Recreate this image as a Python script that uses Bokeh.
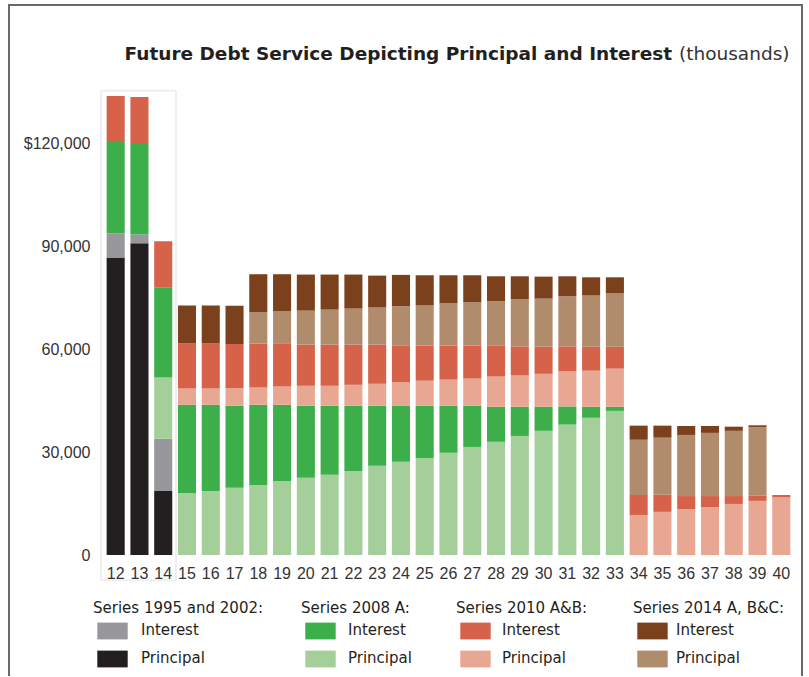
from bokeh.plotting import figure
from bokeh.models import (ColumnDataSource, FixedTicker, Legend, LegendItem,
                          BoxAnnotation, Label)
from bokeh.embed import file_html
from bokeh.resources import INLINE

# ---------------- data (thousands of dollars) ----------------
years = [12, 13, 14, 15, 16, 17, 18, 19, 20, 21, 22, 23, 24, 25, 26, 27, 28,
         29, 30, 31, 32, 33, 34, 35, 36, 37, 38, 39, 40]

# Series 1995 and 2002
p1995 = [86700, 90800, 18700, 0, 0, 0, 0, 0, 0, 0, 0, 0, 0, 0, 0, 0, 0,
         0, 0, 0, 0, 0, 0, 0, 0, 0, 0, 0, 0]
i1995 = [7000, 2600, 15200, 0, 0, 0, 0, 0, 0, 0, 0, 0, 0, 0, 0, 0, 0,
         0, 0, 0, 0, 0, 0, 0, 0, 0, 0, 0, 0]
# Series 2008 A
p2008 = [0, 0, 17800, 18100, 18700, 19600, 20400, 21600, 22500, 23400, 24500,
         26000, 27200, 28300, 29800, 31500, 33000, 34700, 36200, 38000, 40000,
         42000, 0, 0, 0, 0, 0, 0, 0]
i2008 = [26600, 26600, 26300, 25700, 25100, 23900, 23400, 22200, 21000, 20100,
         19000, 17500, 16400, 15200, 13700, 12000, 10200, 8500, 7000, 5300,
         3200, 1200, 0, 0, 0, 0, 0, 0, 0]
# Series 2010 A&B
p2010 = [0, 0, 0, 4700, 4700, 5200, 5000, 5300, 5800, 5800, 6100, 6400, 6700,
         7300, 7600, 7900, 8800, 9100, 9600, 10200, 10500, 11100, 11700, 12600,
         13400, 14000, 14900, 15800, 16900]
i2010 = [13400, 13400, 13400, 13100, 13100, 12800, 12800, 12600, 12000, 12000,
         11700, 11400, 10800, 10200, 9900, 9600, 9100, 8500, 7900, 7300, 7000,
         6400, 5800, 5000, 3800, 3200, 2300, 1500, 600]
# Series 2014 A, B&C
p2014 = [0, 0, 0, 0, 0, 0, 9100, 9300, 9900, 10200, 10500, 10800, 11400, 11700,
         12300, 12600, 12800, 13700, 14000, 14600, 14900, 15500, 16100, 16600,
         17800, 18400, 19000, 19900, 0]
i2014 = [0, 0, 0, 11100, 11100, 11100, 11100, 10800, 10500, 10200, 9900, 9300,
         9100, 8800, 8200, 7900, 7300, 6700, 6400, 5800, 5300, 4700, 4100, 3500,
         2600, 2000, 1200, 600, 0]

y_ticks = [0, 30000, 60000, 90000, 120000]
y_tick_labels = ["0", "30,000", "60,000", "90,000", "$120,000"]

series_names = ["Series 1995 and 2002:", "Series 2008 A:", "Series 2010 A&B:",
                "Series 2014 A, B&C:"]
title_main = "Future Debt Service Depicting Principal and Interest"
title_unit = "(thousands)"

# ---------------- styling ----------------
stack_keys = ["p1995", "i1995", "p2008", "i2008", "p2010", "i2010", "p2014", "i2014"]
colors = ["#231f20", "#98989c", "#a4cf9a", "#3daf4a",
          "#e8a792", "#d6624a", "#b08c6d", "#7b401c"]
TEXT = "#231f20"

source = ColumnDataSource(dict(x=years, p1995=p1995, i1995=i1995, p2008=p2008,
                               i2008=i2008, p2010=p2010, i2010=i2010,
                               p2014=p2014, i2014=i2014))

p = figure(width=795, height=672, output_backend="svg", toolbar_location=None,
           x_range=(11.025, 40.85), y_range=(-35928, 153937),
           x_axis_location="above",
           min_border_left=82, min_border_right=4, min_border_top=20,
           min_border_bottom=0, background_fill_color="white",
           border_fill_color="white")
p.styles = {"margin-left": "8px", "margin-top": "4px",
            "border-top": "2px solid #6a6a6a", "border-left": "2px solid #6a6a6a",
            "border-right": "2px solid #6a6a6a"}
p.outline_line_color = None
p.grid.visible = False

rs = p.vbar_stack(stack_keys, x="x", width=0.76, fill_color=colors,
                  line_color=None, source=source)

# axes
for ax in (p.xaxis[0], p.yaxis[0]):
    ax.axis_line_color = None
    ax.major_tick_line_color = None
    ax.minor_tick_line_color = None
    ax.major_tick_in = 0
    ax.major_tick_out = 0
    ax.major_label_text_font = "Liberation Sans"
    ax.major_label_text_font_size = "16px"
    ax.major_label_text_color = "#333333"

# x axis drawn along the zero line, labels hanging below the bars
p.xaxis.fixed_location = 0
p.xaxis.ticker = FixedTicker(ticks=years)
p.xaxis.major_label_standoff = -24
p.yaxis.ticker = FixedTicker(ticks=y_ticks)
p.yaxis.major_label_overrides = {t: l for t, l in zip(y_ticks, y_tick_labels)}
p.yaxis.major_label_standoff = 2
p.yaxis.major_label_text_baseline = "top"

# grey box around the first three years
box = BoxAnnotation(left=11.386, right=14.537, top=135200, bottom=-7300,
                    fill_color=None, line_color="#c9c9c9", line_width=2)
p.add_layout(box)

# title (bold part + light part)
p.add_layout(Label(x=112, y=45, x_units="canvas", y_units="canvas",
                   text=title_main, text_font="DejaVu Sans",
                   text_font_style="bold", text_font_size="18.5px",
                   text_color=TEXT, text_baseline="alphabetic"))
p.add_layout(Label(x=777, y=45, x_units="canvas", y_units="canvas",
                   text=title_unit, text_font="DejaVu Sans",
                   text_font_style="normal", text_font_size="18.5px",
                   text_color="#333333", text_baseline="alphabetic",
                   text_align="right"))

# legends: one small legend per series group
pairs = [(1, 0), (3, 2), (5, 4), (7, 6)]
offsets = [1, 209, 364, 541]
standoffs = [10, 9, 8, 5]
for name, (ii, pi), xo, so in zip(series_names, pairs, offsets, standoffs):
    lg = Legend(title=name,
                items=[LegendItem(label="Interest", renderers=[rs[ii]]),
                       LegendItem(label="Principal", renderers=[rs[pi]])],
                location=(xo, 9.5), orientation="vertical",
                padding=0, margin=0, border_line_color=None,
                background_fill_alpha=0, glyph_width=38, glyph_height=21,
                label_height=21, label_standoff=so, spacing=7,
                title_standoff=3,
                label_text_font="DejaVu Sans", label_text_font_size="15px",
                label_text_color=TEXT,
                title_text_font="DejaVu Sans", title_text_font_size="15px",
                title_text_font_style="normal", title_text_color=TEXT)
    p.add_layout(lg, "center")

open("out.html", "w").write(file_html(p, INLINE))
